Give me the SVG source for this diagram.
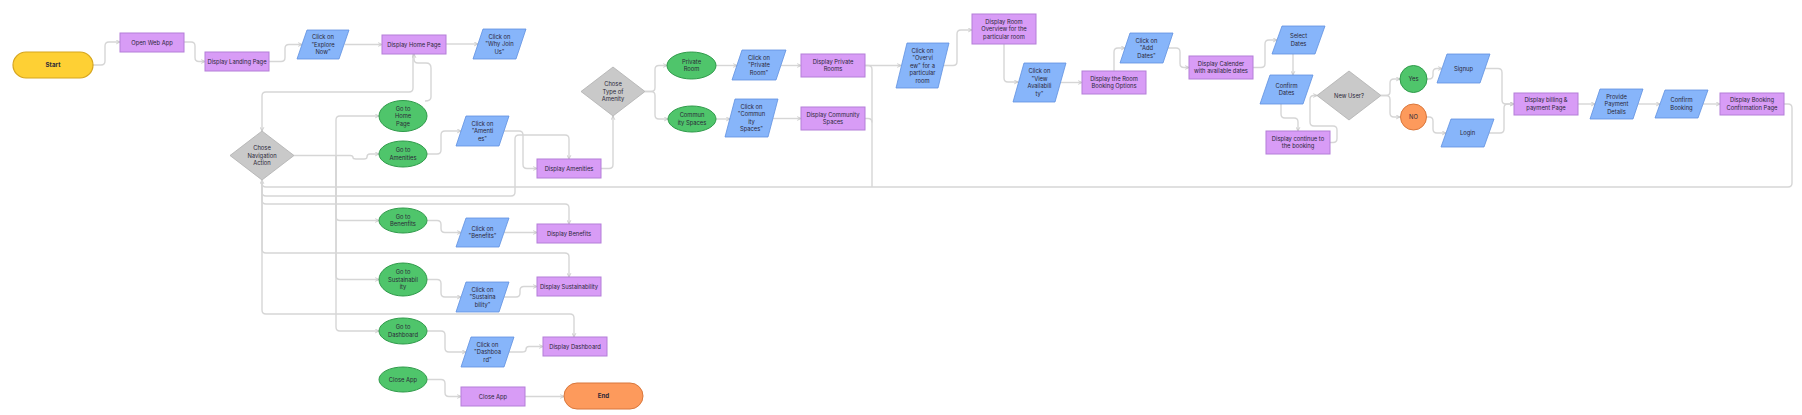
<svg xmlns="http://www.w3.org/2000/svg" width="1802" height="415" viewBox="0 0 1802 415">
<defs>
<style>
text{font-family:Inter,"Liberation Sans",sans-serif;font-size:5.8px;fill:#2b2838;text-anchor:middle}
.b{font-weight:700;font-size:6.2px}
.pr{fill:#d89cf6;stroke:#b47ed8;stroke-width:1}
.bl{fill:#87b5fa;stroke:#5f90e0;stroke-width:0.8}
.gr{fill:#4fc56b;stroke:#2f9a4a;stroke-width:1}
.dm{fill:#c9c9c9;stroke:#b0b0b0;stroke-width:0.8}
.ye{fill:#fed034;stroke:#d6a51e;stroke-width:1.2}
.or{fill:#fd9a5c;stroke:#d9773c;stroke-width:1}
.c path{fill:none;stroke:#d6d6d6;stroke-width:1.4;marker-end:url(#arr)}
.c path.n{marker-end:none}
</style>
<marker id="arr" viewBox="0 0 6 6" refX="5.5" refY="3" markerWidth="5" markerHeight="5" orient="auto" markerUnits="userSpaceOnUse">
<path d="M1,0.8 L5.5,3 L1,5.2" fill="none" stroke="#c4c4c4" stroke-width="1"/>
</marker>
</defs>
<rect width="1802" height="415" fill="#ffffff"/>

<g class="c" id="connectors">
<path d="M93,65 H101 Q105,65 105,61 V46 Q105,42 109,42 H120"/>
<path d="M184,42 H191 Q195,42 195,46 V57.5 Q195,61.5 199,61.5 H205"/>
<path d="M269,61.5 H281 Q285,61.5 285,57.5 V48.5 Q285,44.5 289,44.5 H302"/>
<path d="M344.5,44.5 H382"/>
<path d="M446,44 H478"/>
<path d="M413,54 V88 Q413,92 409,92 H266 Q262,92 262,96 V131"/>
<path d="M425,101 Q431,101 431,97 V68 Q431,63 426,63 H418 Q414,63 414,59 V54"/>
<path class="n" d="M294,155.5 H336"/>
<path d="M336,155.5 V120 Q336,116 340,116 H379"/>
<path d="M336,155.5 H350 Q353,155.5 353,157.5 Q353,159 356,159 H364 Q367,159 367,157 Q367,154 370,154 H379"/>
<path d="M336,155.5 V216.5 Q336,220.5 340,220.5 H379"/>
<path d="M336,155.5 V275.5 Q336,279.5 340,279.5 H379"/>
<path d="M336,155.5 V327 Q336,331 340,331 H379"/>
<path d="M427,154 H437 Q441,154 441,150 V135 Q441,131 445,131 H461"/>
<path d="M504,131 H519 Q523,131 523,135 V164.5 Q523,168.5 527,168.5 H537"/>
<path d="M262,180 V192 Q262,196 266,196 H511 Q515,196 515,192 V139 Q515,135 519,135 H565 Q569,135 569,139 V159"/>
<path d="M601,168.5 H609 Q613,168.5 613,164.5 V116"/>
<path d="M645,91.5 H651 Q655,91.5 655,87.5 V69.5 Q655,65.5 659,65.5 H667"/>
<path d="M645,91.5 H651 Q655,91.5 655,95.5 V115 Q655,119 659,119 H668"/>
<path d="M716,65.5 H737"/>
<path d="M781,65.5 H801"/>
<path d="M716,119 H730"/>
<path d="M773,118.5 H801"/>
<path d="M865,65.5 H901"/>
<path class="n" d="M865,65.5 H868 Q872,65.5 872,69.5 V187"/>
<path class="n" d="M865,118.5 H868 Q872,118.5 872,122.5"/>
<path d="M1784,104 H1788 Q1792,104 1792,108 V183 Q1792,187 1788,187 H266 Q262,187 262,183 V180"/>
<path d="M944,65.5 H953 Q957,65.5 957,61.5 V34 Q957,30 961,30 H972"/>
<path d="M1004,44 V78 Q1004,82 1008,82 H1018"/>
<path d="M1061,82.5 H1082"/>
<path d="M1114,71 V52 Q1114,48 1118,48 H1125"/>
<path d="M1168,48 H1176 Q1180,48 1180,52 V63.5 Q1180,67.5 1184,67.5 H1189"/>
<path d="M1253,67.5 H1261 Q1265,67.5 1265,63.5 V44 Q1265,40 1269,40 H1277"/>
<path d="M1293,54 V75"/>
<path d="M1281,104 V114 Q1281,118 1285,118 H1294 Q1298,118 1298,122 V131"/>
<path d="M1330,142.5 H1333 Q1337,142.5 1337,138.5 V130 Q1337,126 1333,126 H1314 Q1310,126 1310,122 V99.5 Q1310,95.5 1314,95.5 H1317"/>
<path d="M1381,95.5 H1386 Q1390,95.5 1390,91.5 V83 Q1390,79 1394,79 H1400"/>
<path d="M1381,95.5 H1386 Q1390,95.5 1390,99.5 V113 Q1390,117 1394,117 H1400"/>
<path d="M1427,79 H1429 Q1433,79 1433,75 V72.5 Q1433,68.5 1437,68.5 H1442"/>
<path d="M1426.5,117 H1429 Q1433,117 1433,121 V129 Q1433,133 1437,133 H1446"/>
<path d="M1485,68.5 H1498 Q1502,68.5 1502,72.5 V100 Q1502,104 1506,104 H1514"/>
<path d="M1489,133 H1500 Q1504,133 1504,129 V108 Q1504,104 1508,104 H1514"/>
<path d="M1578,104 H1595"/>
<path d="M1638,104 H1660"/>
<path d="M1703,104 H1720"/>
<path d="M262,180 V200 Q262,204 266,204 H565 Q569,204 569,208 V224"/>
<path d="M427,220.5 H437 Q441,220.5 441,224.5 V228.5 Q441,232.5 445,232.5 H461"/>
<path d="M504,232.5 H537"/>
<path d="M262,180 V249 Q262,253 266,253 H565 Q569,253 569,257 V277"/>
<path d="M427,279.5 H437 Q441,279.5 441,283.5 V293 Q441,297 445,297 H461"/>
<path d="M504,297 H516 Q520,297 520,293 V290.5 Q520,286.5 524,286.5 H537"/>
<path d="M262,180 V310 Q262,314 266,314 H570 Q574,314 574,318 V337"/>
<path d="M427,331 H441 Q445,331 445,335 V348 Q445,352 449,352 H466"/>
<path d="M509,352 H522 Q526,352 526,349.5 Q526,346.5 529,346.5 H543"/>
<path d="M427,379.5 H441 Q445,379.5 445,383.5 V392.5 Q445,396.5 449,396.5 H461"/>
<path d="M525,396.5 H564"/>
</g>

<g id="start"><rect class="ye" x="13" y="52" width="80" height="26" rx="13"/><text class="b" x="53" y="67.2">Start</text></g>
<g id="end"><rect class="or" x="564" y="383" width="79" height="26" rx="13"/><text class="b" x="603.5" y="398.2">End</text></g>

<g id="open-web-app"><rect class="pr" x="120" y="33" width="64" height="19"/><text x="152" y="44.6">Open Web App</text></g>
<g id="landing"><rect class="pr" x="205" y="52" width="64" height="19"/><text x="237" y="63.6">Display Landing Page</text></g>
<g id="home"><rect class="pr" x="382" y="35" width="64" height="19"/><text x="414" y="46.6">Display Home Page</text></g>
<g id="explore"><polygon class="bl" points="307,30 349,30 339,59 297,59"/><text x="323" y="39"><tspan x="323">Click on</tspan><tspan x="323" dy="7.5">"Explore</tspan><tspan x="323" dy="7.5">Now"</tspan></text></g>
<g id="why"><polygon class="bl" points="483,29 526,29 516,59 473,59"/><text x="499.5" y="38.5"><tspan x="499.5">Click on</tspan><tspan x="499.5" dy="7.5">"Why Join</tspan><tspan x="499.5" dy="7.5">Us"</tspan></text></g>

<g id="nav"><polygon class="dm" points="262,131 294,155.5 262,180 230,155.5"/><text x="262" y="150"><tspan x="262">Chose</tspan><tspan x="262" dy="7.5">Navigation</tspan><tspan x="262" dy="7.5">Action</tspan></text></g>

<g id="go-home"><ellipse class="gr" cx="403" cy="116" rx="24" ry="15.5"/><text x="403" y="110.5"><tspan x="403">Go to</tspan><tspan x="403" dy="7.5">Home</tspan><tspan x="403" dy="7.5">Page</tspan></text></g>
<g id="go-amen"><ellipse class="gr" cx="403" cy="154" rx="24" ry="13"/><text x="403" y="152.2"><tspan x="403">Go to</tspan><tspan x="403" dy="7.5">Amenities</tspan></text></g>
<g id="click-amen"><polygon class="bl" points="466,116 509,116 499,146 456,146"/><text x="482.5" y="125.5"><tspan x="482.5">Click on</tspan><tspan x="482.5" dy="7.5">"Amenti</tspan><tspan x="482.5" dy="7.5">es"</tspan></text></g>
<g id="disp-amen"><rect class="pr" x="537" y="159" width="64" height="19"/><text x="569" y="170.6">Display Amenities</text></g>

<g id="type"><polygon class="dm" points="613,67 645,91.5 613,116 581,91.5"/><text x="613" y="86"><tspan x="613">Chose</tspan><tspan x="613" dy="7.5">Type of</tspan><tspan x="613" dy="7.5">Amenity</tspan></text></g>
<g id="private"><ellipse class="gr" cx="691.5" cy="65.5" rx="24.5" ry="13.5"/><text x="691.5" y="63.7"><tspan x="691.5">Private</tspan><tspan x="691.5" dy="7.5">Room</tspan></text></g>
<g id="click-private"><polygon class="bl" points="742,50 786,50 776,80 732,80"/><text x="759" y="59.5"><tspan x="759">Click on</tspan><tspan x="759" dy="7.5">"Private</tspan><tspan x="759" dy="7.5">Room"</tspan></text></g>
<g id="disp-private"><rect class="pr" x="801" y="54" width="64" height="23"/><text x="833" y="63.7"><tspan x="833">Display Private</tspan><tspan x="833" dy="7.5">Rooms</tspan></text></g>
<g id="community"><ellipse class="gr" cx="692" cy="119" rx="24" ry="13"/><text x="692" y="117.2"><tspan x="692">Commun</tspan><tspan x="692" dy="7.5">ity Spaces</tspan></text></g>
<g id="click-community"><polygon class="bl" points="735,99 778,99 768,137 725,137"/><text x="751.5" y="108.7"><tspan x="751.5">Click on</tspan><tspan x="751.5" dy="7.5">"Commun</tspan><tspan x="751.5" dy="7.5">ity</tspan><tspan x="751.5" dy="7.5">Spaces"</tspan></text></g>
<g id="disp-community"><rect class="pr" x="801" y="107" width="64" height="23"/><text x="833" y="116.7"><tspan x="833">Display Community</tspan><tspan x="833" dy="7.5">Spaces</tspan></text></g>

<g id="click-overview"><polygon class="bl" points="907,43 949,43 938,88 896,88"/><text x="922.5" y="52.5"><tspan x="922.5">Click on</tspan><tspan x="922.5" dy="7.5">"Overvi</tspan><tspan x="922.5" dy="7.5">ew" for a</tspan><tspan x="922.5" dy="7.5">particular</tspan><tspan x="922.5" dy="7.5">room</tspan></text></g>
<g id="room-overview"><rect class="pr" x="972" y="14" width="64" height="30"/><text x="1004" y="23.5"><tspan x="1004">Display Room</tspan><tspan x="1004" dy="7.5">Overview for the</tspan><tspan x="1004" dy="7.5">particular room</tspan></text></g>
<g id="click-avail"><polygon class="bl" points="1024,63 1066,63 1055,102 1013,102"/><text x="1039.5" y="73.2"><tspan x="1039.5">Click on</tspan><tspan x="1039.5" dy="7.5">"View</tspan><tspan x="1039.5" dy="7.5">Availabili</tspan><tspan x="1039.5" dy="7.5">ty"</tspan></text></g>
<g id="booking-options"><rect class="pr" x="1082" y="71" width="64" height="23"/><text x="1114" y="80.7"><tspan x="1114">Display the Room</tspan><tspan x="1114" dy="7.5">Booking Options</tspan></text></g>
<g id="add-dates"><polygon class="bl" points="1130,33 1173,33 1163,63 1120,63"/><text x="1146.5" y="42.5"><tspan x="1146.5">Click on</tspan><tspan x="1146.5" dy="7.5">"Add</tspan><tspan x="1146.5" dy="7.5">Dates"</tspan></text></g>
<g id="calendar"><rect class="pr" x="1189" y="56" width="64" height="23"/><text x="1221" y="65.7"><tspan x="1221">Display Calender</tspan><tspan x="1221" dy="7.5">with available dates</tspan></text></g>
<g id="select-dates"><polygon class="bl" points="1282,26 1325,26 1315,54 1272,54"/><text x="1298.5" y="38.2"><tspan x="1298.5">Select</tspan><tspan x="1298.5" dy="7.5">Dates</tspan></text></g>
<g id="confirm-dates"><polygon class="bl" points="1270,75 1313,75 1303,104 1260,104"/><text x="1286.5" y="87.7"><tspan x="1286.5">Confirm</tspan><tspan x="1286.5" dy="7.5">Dates</tspan></text></g>
<g id="continue"><rect class="pr" x="1266" y="131" width="64" height="23"/><text x="1298" y="140.7"><tspan x="1298">Display continue to</tspan><tspan x="1298" dy="7.5">the booking</tspan></text></g>
<g id="new-user"><polygon class="dm" points="1349,71 1381,95.5 1349,120 1317,95.5"/><text x="1349" y="97.6">New User?</text></g>
<g id="yes"><circle class="gr" cx="1413.5" cy="79" r="13.5"/><text x="1413.5" y="81.1">Yes</text></g>
<g id="no"><circle class="or" cx="1413.5" cy="117" r="13"/><text x="1413.5" y="119.1">NO</text></g>
<g id="signup"><polygon class="bl" points="1447,54 1490,54 1480,83 1437,83"/><text x="1463.5" y="70.6">Signup</text></g>
<g id="login"><polygon class="bl" points="1451,119 1494,119 1484,147 1441,147"/><text x="1467.5" y="135.1">Login</text></g>
<g id="billing"><rect class="pr" x="1514" y="93" width="64" height="22"/><text x="1546" y="102.2"><tspan x="1546">Display billing &amp;</tspan><tspan x="1546" dy="7.5">payment Page</tspan></text></g>
<g id="payment"><polygon class="bl" points="1600,89 1643,89 1633,119 1590,119"/><text x="1616.5" y="98.5"><tspan x="1616.5">Provide</tspan><tspan x="1616.5" dy="7.5">Payment</tspan><tspan x="1616.5" dy="7.5">Details</tspan></text></g>
<g id="confirm-booking"><polygon class="bl" points="1665,90 1708,90 1698,118 1655,118"/><text x="1681.5" y="102.2"><tspan x="1681.5">Confirm</tspan><tspan x="1681.5" dy="7.5">Booking</tspan></text></g>
<g id="confirmation"><rect class="pr" x="1720" y="93" width="64" height="22"/><text x="1752" y="102.2"><tspan x="1752">Display Booking</tspan><tspan x="1752" dy="7.5">Confirmation Page</tspan></text></g>

<g id="go-benefits"><ellipse class="gr" cx="403" cy="220.5" rx="24" ry="12.5"/><text x="403" y="218.7"><tspan x="403">Go to</tspan><tspan x="403" dy="7.5">Benenfits</tspan></text></g>
<g id="click-benefits"><polygon class="bl" points="466,218 509,218 499,247 456,247"/><text x="482.5" y="230.7"><tspan x="482.5">Click on</tspan><tspan x="482.5" dy="7.5">"Benefits"</tspan></text></g>
<g id="disp-benefits"><rect class="pr" x="537" y="224" width="64" height="19"/><text x="569" y="235.6">Display Benefits</text></g>
<g id="go-sust"><ellipse class="gr" cx="403" cy="279.5" rx="24" ry="16.5"/><text x="403" y="274"><tspan x="403">Go to</tspan><tspan x="403" dy="7.5">Sustainabil</tspan><tspan x="403" dy="7.5">ity</tspan></text></g>
<g id="click-sust"><polygon class="bl" points="466,282 509,282 499,312 456,312"/><text x="482.5" y="291.5"><tspan x="482.5">Click on</tspan><tspan x="482.5" dy="7.5">"Sustaina</tspan><tspan x="482.5" dy="7.5">bility"</tspan></text></g>
<g id="disp-sust"><rect class="pr" x="537" y="277" width="64" height="19"/><text x="569" y="288.6">Display Sustainability</text></g>
<g id="go-dash"><ellipse class="gr" cx="403" cy="331" rx="24" ry="13"/><text x="403" y="329.2"><tspan x="403">Go to</tspan><tspan x="403" dy="7.5">Dashboard</tspan></text></g>
<g id="click-dash"><polygon class="bl" points="471,337 514,337 504,367 461,367"/><text x="487.5" y="346.5"><tspan x="487.5">Click on</tspan><tspan x="487.5" dy="7.5">"Dashboa</tspan><tspan x="487.5" dy="7.5">rd"</tspan></text></g>
<g id="disp-dash"><rect class="pr" x="543" y="337" width="64" height="19"/><text x="575" y="348.6">Display Dashboard</text></g>
<g id="close-app-ev"><ellipse class="gr" cx="403" cy="379.5" rx="24" ry="12.5"/><text x="403" y="381.6">Close App</text></g>
<g id="close-app"><rect class="pr" x="461" y="387" width="64" height="19"/><text x="493" y="398.6">Close App</text></g>
</svg>
